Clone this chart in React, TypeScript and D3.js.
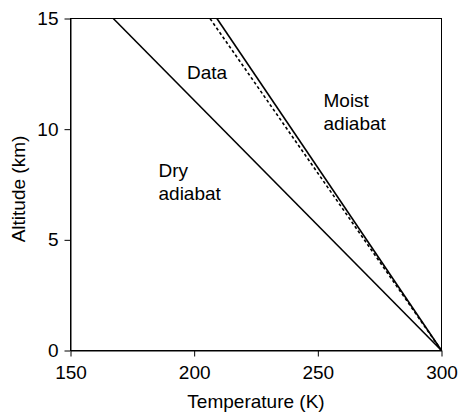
import React, { useEffect, useRef } from "react";
import * as d3 from "d3";

// Altitude (km) at each end of the profiles
const altitudes = [0, 15];
// Temperature (K) for each profile at those altitudes
const dryAdiabat = [300, 167.3];
const moistAdiabat = [300, 209.2];
const observed = [300, 206.4];

const xTicks = [150, 200, 250, 300];
const yTicks = [0, 5, 10, 15];

const W = 458;
const H = 413;
const FONT = "'Liberation Sans', Arial, Helvetica, sans-serif";
const FS = 19;

export default function App() {
  const ref = useRef<SVGSVGElement | null>(null);

  useEffect(() => {
    const svg = d3.select(ref.current);
    svg.selectAll("*").remove();

    const x = d3.scaleLinear().domain([150, 300]).range([70.5, 441.5]);
    const y = d3.scaleLinear().domain([0, 15]).range([350.5, 18.5]);

    // frame
    svg
      .append("rect")
      .attr("x", x(150))
      .attr("y", y(15))
      .attr("width", x(300) - x(150))
      .attr("height", y(0) - y(15))
      .attr("fill", "none")
      .attr("stroke", "#000")
      .attr("stroke-width", 1);

    const gx = svg
      .append("g")
      .attr("transform", `translate(0,${y(0)})`)
      .call(
        d3
          .axisBottom(x)
          .tickValues(xTicks)
          .tickSize(6)
          .tickSizeOuter(0)
          .tickPadding(9.5)
          .tickFormat(d3.format("d"))
      );
    const gy = svg
      .append("g")
      .attr("transform", `translate(${x(150)},0)`)
      .call(
        d3
          .axisLeft(y)
          .tickValues(yTicks)
          .tickSize(6)
          .tickSizeOuter(0)
          .tickPadding(6)
          .tickFormat(d3.format("d"))
      );
    [gx, gy].forEach((g) => {
      g.attr("font-family", FONT).attr("font-size", FS);
      g.selectAll("text").attr("fill", "#000");
      g.selectAll("line").attr("stroke", "#000");
      g.select(".domain").attr("stroke", "#000");
    });

    const line = d3
      .line<[number, number]>()
      .x((d) => x(d[0]))
      .y((d) => y(d[1]));

    const series = [
      { t: dryAdiabat, dash: null },
      { t: moistAdiabat, dash: null },
      { t: observed, dash: "3,2.5" },
    ];
    series.forEach((s) => {
      const pts = s.t.map((t, i) => [t, altitudes[i]] as [number, number]);
      const p = svg
        .append("path")
        .attr("d", line(pts))
        .attr("fill", "none")
        .attr("stroke", "#000")
        .attr("stroke-width", 1.6);
      if (s.dash) p.attr("stroke-dasharray", s.dash);
    });

    const labels = [
      { lines: ["Data"], x: 187, y: 78.5 },
      { lines: ["Moist", "adiabat"], x: 323.5, y: 107 },
      { lines: ["Dry", "adiabat"], x: 158.5, y: 177 },
    ];
    labels.forEach((l) => {
      l.lines.forEach((s, i) => {
        svg
          .append("text")
          .attr("x", l.x)
          .attr("y", l.y + i * 22.8)
          .attr("font-family", FONT)
          .attr("font-size", FS)
          .attr("fill", "#000")
          .text(s);
      });
    });

    svg
      .append("text")
      .attr("x", (x(150) + x(300)) / 2)
      .attr("y", 408)
      .attr("text-anchor", "middle")
      .attr("font-family", FONT)
      .attr("font-size", FS)
      .attr("fill", "#000")
      .text("Temperature (K)");

    svg
      .append("text")
      .attr("transform", `translate(25,189) rotate(-90)`)
      .attr("text-anchor", "middle")
      .attr("font-family", FONT)
      .attr("font-size", FS)
      .attr("fill", "#000")
      .text("Altitude (km)");
  }, []);

  return (
    <svg
      ref={ref}
      width={W}
      height={H}
      style={{ position: "absolute", left: 0, top: 0, background: "#fff" }}
    />
  );
}
